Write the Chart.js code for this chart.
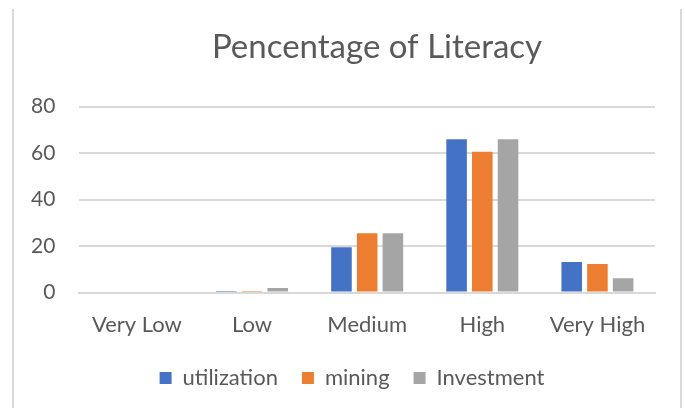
<!DOCTYPE html>
<html>
<head>
<meta charset="utf-8">
<script src="https://cdn.jsdelivr.net/npm/chart.js@4"></script>
<style>
  body { margin: 0; background: #fff; }
  #wrap { position: relative; width: 685px; height: 408px; }
  #frame {
    position: absolute; left: 12px; top: 9px; width: 666px; height: 420px;
    border-left: 2px solid #d9d9d9; border-right: 2px solid #d9d9d9;
  }
</style>
</head>
<body>
<div id="wrap">
  <div id="frame"></div>
  <canvas id="canvas-chart" width="685" height="408"></canvas>
</div>
<script>
const categories = ['Very Low', 'Low', 'Medium', 'High', 'Very High'];
const utilization = [0, 0.7, 19.5, 66, 13.2];
const mining = [0, 0.7, 25.5, 60.6, 12.3];
const investment = [0, 2, 25.5, 66, 6.2];

let ctx = document.getElementById('canvas-chart').getContext('2d');

Chart.defaults.font.family = 'Lato';
Chart.defaults.color = '#595959';

// excel puts the title and legend a bit right of the canvas center
const shiftBlocks = {
    id: 'shiftBlocks',
    afterLayout(chart) {
        if (chart.titleBlock) {
            chart.titleBlock.left += 46;
            chart.titleBlock.right += 46;
        }
        if (chart.legend) {
            chart.legend.left += 21;
            chart.legend.right += 21;
        }
    }
};

let literacyChart = new Chart(ctx, {
    type: 'bar',
    data: {
        labels: categories,
        datasets: [
            { label: 'utilization', data: utilization, backgroundColor: '#4472c4' },
            { label: 'mining', data: mining, backgroundColor: '#ed7d31' },
            { label: 'Investment', data: investment, backgroundColor: '#a5a5a5' }
        ]
    },
    plugins: [shiftBlocks],
    options: {
        responsive: false,
        animation: false,
        datasets: {
            bar: { categoryPercentage: 0.67, barPercentage: 0.8 }
        },
        layout: { padding: { left: 7, right: 30, top: 0, bottom: 9 } },
        plugins: {
            title: {
                display: true,
                text: 'Pencentage of Literacy',
                color: '#595959',
                font: { size: 33, weight: 'normal' },
                padding: { top: 28, bottom: 39 }
            },
            legend: {
                position: 'bottom',
                labels: {
                    boxWidth: 12,
                    boxHeight: 12,
                    padding: 24,
                    font: { size: 22 },
                    color: '#595959'
                }
            },
            tooltip: { enabled: false }
        },
        scales: {
            x: {
                grid: { display: false },
                border: { color: '#d9d9d9', width: 2 },
                ticks: { font: { size: 22 }, padding: 11, color: '#595959' },
                afterFit(scale) { scale.height -= 6; }
            },
            y: {
                min: 0,
                max: 80,
                ticks: { stepSize: 20, font: { size: 21 }, padding: 24, color: '#595959' },
                grid: { color: '#d9d9d9', lineWidth: 2, drawTicks: false },
                border: { display: false }
            }
        }
    }
});
</script>
</body>
</html>
